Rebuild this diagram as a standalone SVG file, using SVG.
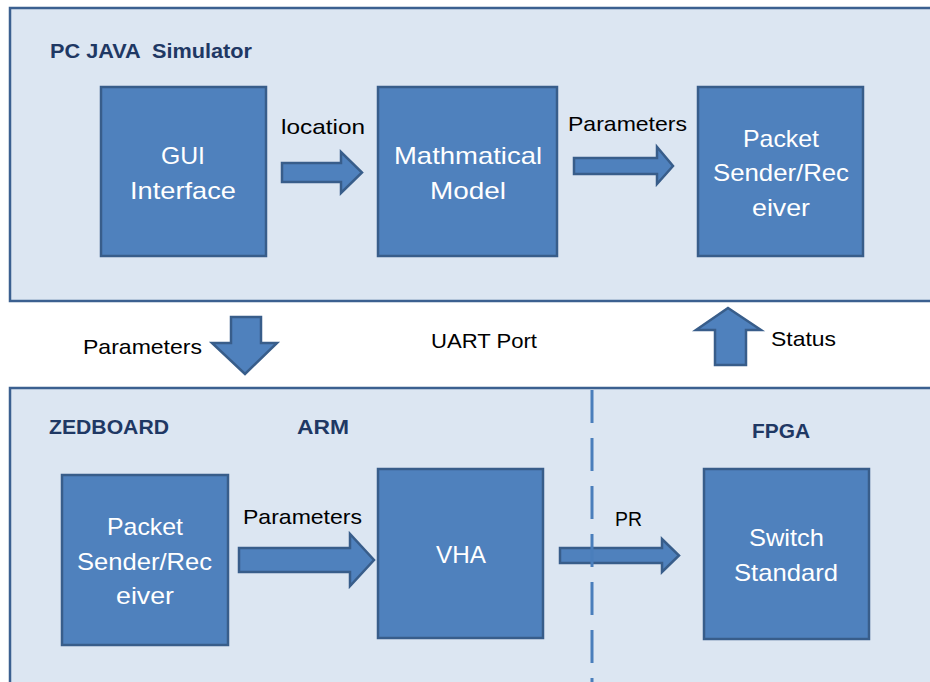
<svg xmlns="http://www.w3.org/2000/svg" width="930" height="682" viewBox="0 0 930 682">
<style>
.panel{fill:#dce6f2;stroke:#3b6090;stroke-width:2.5}
.box{fill:#4f81bd;stroke:#385d8a;stroke-width:2.5}
.arr{fill:#4f81bd;stroke:#385d8a;stroke-width:2.5;stroke-linejoin:miter}
.t{font-family:"Liberation Sans",Arial,sans-serif;font-size:21px;fill:#000}
.w{font-family:"Liberation Sans",Arial,sans-serif;font-size:24px;fill:#fff}
.h{font-family:"Liberation Sans",Arial,sans-serif;font-size:20px;font-weight:bold;fill:#1f3864}
</style>
<rect x="0" y="0" width="930" height="682" fill="#fff"/>
<g id="pc-panel">
<rect class="panel" x="10" y="8" width="940" height="293"/>
<text class="h" x="50" y="58" textLength="202" lengthAdjust="spacingAndGlyphs" xml:space="preserve">PC JAVA  Simulator</text>
</g>
<g id="zed-panel">
<rect class="panel" x="10" y="388" width="940" height="310"/>
<text class="h" x="49" y="434" textLength="120" lengthAdjust="spacingAndGlyphs">ZEDBOARD</text>
<text class="h" x="297" y="434" textLength="52" lengthAdjust="spacingAndGlyphs">ARM</text>
<text class="h" x="752" y="438" textLength="58" lengthAdjust="spacingAndGlyphs">FPGA</text>
</g>
<g id="gui">
<rect class="box" x="101" y="87" width="165" height="169"/>
<text class="w" x="161" y="164" textLength="44" lengthAdjust="spacingAndGlyphs">GUI</text>
<text class="w" x="130" y="199" textLength="106" lengthAdjust="spacingAndGlyphs">Interface</text>
</g>
<g id="math">
<rect class="box" x="378" y="87" width="179" height="169"/>
<text class="w" x="394" y="164" textLength="148" lengthAdjust="spacingAndGlyphs">Mathmatical</text>
<text class="w" x="430" y="199" textLength="76" lengthAdjust="spacingAndGlyphs">Model</text>
</g>
<g id="pc-packet">
<rect class="box" x="698" y="87" width="165" height="169"/>
<text class="w" x="743" y="147" textLength="76" lengthAdjust="spacingAndGlyphs">Packet</text>
<text class="w" x="713" y="181" textLength="136" lengthAdjust="spacingAndGlyphs">Sender/Rec</text>
<text class="w" x="752" y="216" textLength="58" lengthAdjust="spacingAndGlyphs">eiver</text>
</g>
<g id="zed-packet">
<rect class="box" x="62" y="475" width="166" height="170"/>
<text class="w" x="107" y="535" textLength="76" lengthAdjust="spacingAndGlyphs">Packet</text>
<text class="w" x="77" y="570" textLength="135" lengthAdjust="spacingAndGlyphs">Sender/Rec</text>
<text class="w" x="116" y="604" textLength="58" lengthAdjust="spacingAndGlyphs">eiver</text>
</g>
<g id="vha">
<rect class="box" x="378" y="469" width="165" height="169"/>
<text class="w" x="436" y="563" textLength="50" lengthAdjust="spacingAndGlyphs">VHA</text>
</g>
<g id="switch">
<rect class="box" x="704" y="469" width="165" height="170"/>
<text class="w" x="749" y="546" textLength="75" lengthAdjust="spacingAndGlyphs">Switch</text>
<text class="w" x="734" y="581" textLength="104" lengthAdjust="spacingAndGlyphs">Standard</text>
</g>
<g id="connectors">
<path class="arr" d="M282,163 H341 V152 L362,172.5 L341,193 V182 H282 Z"/>
<text class="t" x="281" y="134" textLength="84" lengthAdjust="spacingAndGlyphs">location</text>
<path class="arr" d="M574,158 H657 V147 L673,166 L657,184 V174 H574 Z"/>
<text class="t" x="568" y="131" textLength="119" lengthAdjust="spacingAndGlyphs">Parameters</text>
<path class="arr" d="M231,317 H261 V343 H277 L245,374 L212,343 H231 Z"/>
<text class="t" x="83" y="354" textLength="119" lengthAdjust="spacingAndGlyphs">Parameters</text>
<text class="t" x="431" y="348" textLength="106" lengthAdjust="spacingAndGlyphs">UART Port</text>
<path class="arr" d="M715,365 V330 H696 L728,308 L761,330 H746 V365 Z"/>
<text class="t" x="771" y="346" textLength="65" lengthAdjust="spacingAndGlyphs">Status</text>
<path class="arr" d="M239,548 H350 V534 L374,560 L350,586 V572 H239 Z"/>
<text class="t" x="243" y="524" textLength="119" lengthAdjust="spacingAndGlyphs">Parameters</text>
<path class="arr" d="M560,548 H662 V539 L679,555.5 L662,572 V563 H560 Z"/>
<text class="t" x="615" y="526" textLength="27" lengthAdjust="spacingAndGlyphs">PR</text>
<line x1="592" y1="390" x2="592" y2="682" stroke="#4a7ebb" stroke-width="3" stroke-dasharray="33 15"/>
</g>
</svg>
